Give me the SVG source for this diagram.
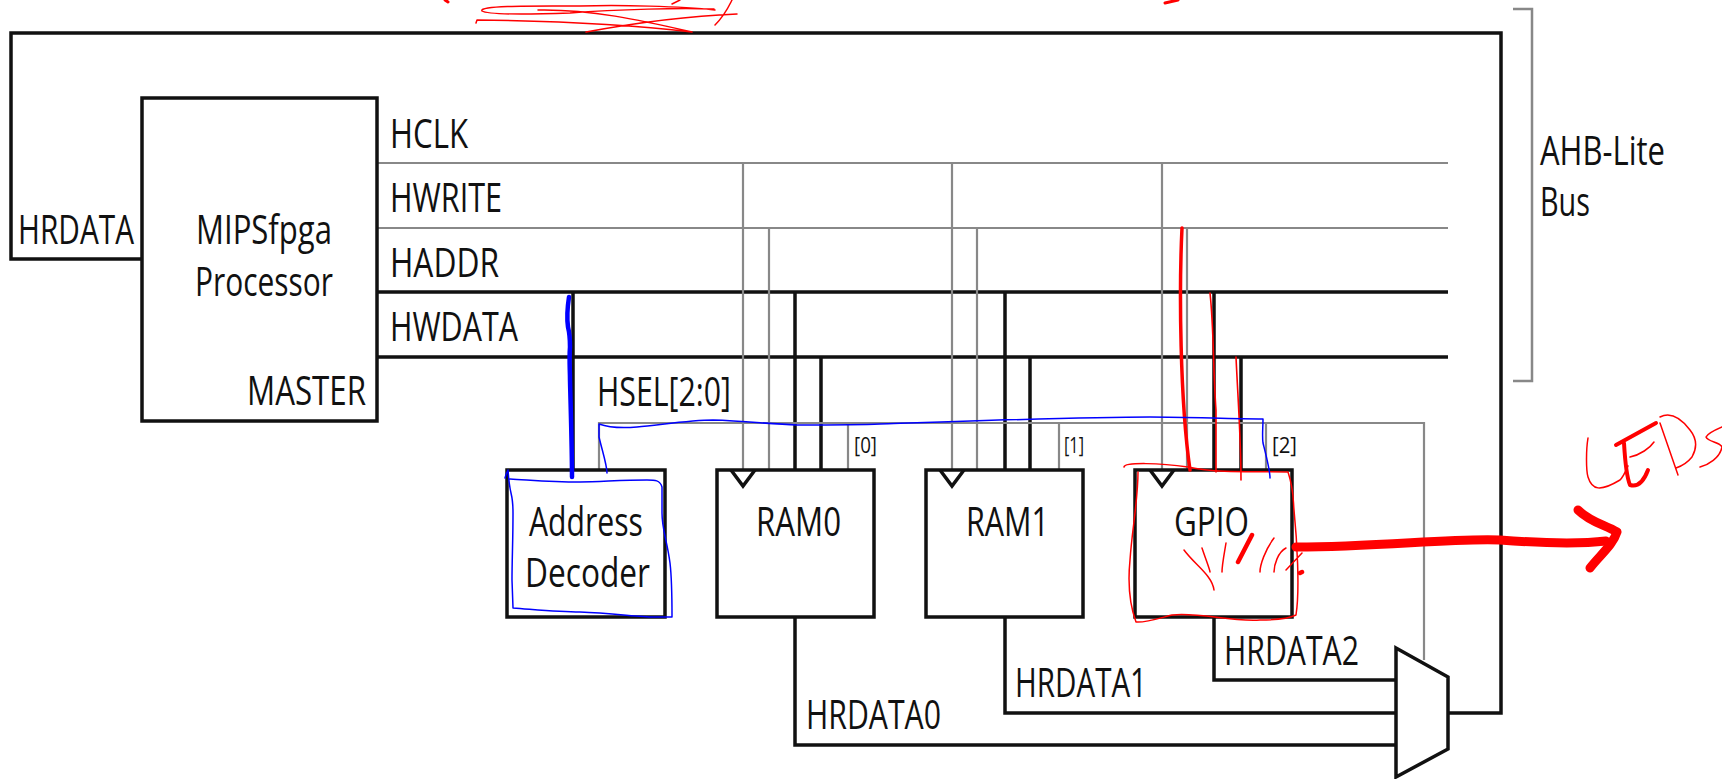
<svg xmlns="http://www.w3.org/2000/svg" width="1722" height="779" viewBox="0 0 1722 779">
<style>
text{font-family:"Open Sans","Noto Sans",sans-serif;font-size:40px;fill:#111}
.s{font-size:21px}
.b{fill:none;stroke:#111;stroke-width:3.5}
.g{fill:none;stroke:#888;stroke-width:2.2}
.box{fill:#fff;stroke:#111;stroke-width:3.5}
.r{fill:none;stroke:#f00;stroke-linecap:round;stroke-linejoin:round}
.u{fill:none;stroke:#00f;stroke-linecap:round;stroke-linejoin:round}
</style>
<g id="connectors">
<path class="b" d="M142 259H11V33H1501V713H1448"/>
<path class="g" d="M377 163H1448M377 228H1448"/>
<path class="b" d="M377 292H1448M377 357H1448"/>
<path class="g" d="M743 163V470M769 228V470M952 163V470M977 228V470M1162 163V470M1187 228V470"/>
<path class="b" d="M573 292V470M795 292V470M821 357V470M1005 292V470M1030 357V470M1214 292V470M1241 357V470"/>
<path class="g" d="M599 470V423H1424V660M848 423V470M1059 423V470M1266 423V470"/>
<path class="b" d="M795 617V745H1396M1005 617V713H1396M1214 617V680H1396"/>
<path class="g" d="M1513 9H1532V381H1513" style="stroke-width:2.5"/>
</g>
<g id="processor"><rect class="box" x="142" y="98" width="235" height="323"/>
<text lengthAdjust="spacingAndGlyphs" textLength="136" x="196" y="244">MIPSfpga</text><text lengthAdjust="spacingAndGlyphs" textLength="138" x="195" y="296">Processor</text><text lengthAdjust="spacingAndGlyphs" textLength="119" x="247" y="405">MASTER</text></g>
<g id="decoder"><rect class="box" x="507" y="470" width="158" height="147"/>
<text lengthAdjust="spacingAndGlyphs" textLength="114" x="529" y="536">Address</text><text lengthAdjust="spacingAndGlyphs" textLength="125" x="525" y="587">Decoder</text></g>
<g id="ram0"><rect class="box" x="717" y="470" width="157" height="147"/><path class="b" d="M731 470L743 486L755 470"/>
<text lengthAdjust="spacingAndGlyphs" textLength="85" x="756" y="536">RAM0</text></g>
<g id="ram1"><rect class="box" x="926" y="470" width="157" height="147"/><path class="b" d="M940 470L952 486L964 470"/>
<text lengthAdjust="spacingAndGlyphs" textLength="83" x="966" y="536">RAM1</text></g>
<g id="gpio"><rect class="box" x="1135" y="470" width="157" height="147"/><path class="b" d="M1150 470L1162 486L1174 470"/>
<text lengthAdjust="spacingAndGlyphs" textLength="75" x="1174" y="536">GPIO</text></g>
<g id="mux"><path class="box" d="M1396 648L1448 677V749L1396 777Z"/></g>
<g id="labels">
<text lengthAdjust="spacingAndGlyphs" textLength="78" x="390" y="148">HCLK</text><text lengthAdjust="spacingAndGlyphs" textLength="112" x="390" y="212">HWRITE</text><text lengthAdjust="spacingAndGlyphs" textLength="109" x="390" y="277">HADDR</text><text lengthAdjust="spacingAndGlyphs" textLength="128" x="390" y="341">HWDATA</text>
<text lengthAdjust="spacingAndGlyphs" textLength="134" x="597" y="406">HSEL[2:0]</text><text lengthAdjust="spacingAndGlyphs" textLength="116" x="18" y="244">HRDATA</text>
<text lengthAdjust="spacingAndGlyphs" textLength="125" x="1540" y="165">AHB-Lite</text><text lengthAdjust="spacingAndGlyphs" textLength="50" x="1540" y="216">Bus</text>
<text class="s" lengthAdjust="spacingAndGlyphs" textLength="23" x="854" y="453">[0]</text><text class="s" lengthAdjust="spacingAndGlyphs" textLength="20" x="1064" y="453">[1]</text><text class="s" lengthAdjust="spacingAndGlyphs" textLength="25" x="1272" y="453">[2]</text>
<text lengthAdjust="spacingAndGlyphs" textLength="135" x="806" y="729">HRDATA0</text><text lengthAdjust="spacingAndGlyphs" textLength="132" x="1015" y="697">HRDATA1</text><text lengthAdjust="spacingAndGlyphs" textLength="135" x="1224" y="665">HRDATA2</text>
</g>
<g id="annotations">
<path class="r" stroke-width="1.5" d="M476 23L477 20C560 21 640 26 692 32M586 32C640 22 690 16 737 14M715 10C680 6 620 5 580 6C540 6 478 5 482 11C488 15 540 14 570 13C620 9 680 8 714 9M538 10C590 9 640 20 692 32M715 25C725 15 728 8 732 0M672 4L680 0"/>
<path class="r" stroke-width="3" d="M445 0L448 2M1165 3L1178 0"/>
<path class="r" stroke-width="3.5" d="M1182 228C1179 290 1180 400 1190 470"/>
<path class="r" stroke-width="1.6" d="M1210 293C1214 330 1213 370 1216 410L1216 472M1236 357C1238 400 1241 440 1241 480"/>
<path class="r" stroke-width="1.5" d="M1124 467C1125 462 1160 463 1188 467C1220 474 1260 471 1288 472C1294 490 1293 500 1294 510C1297 540 1300 590 1296 615C1290 618 1280 620 1260 620C1230 622 1200 612 1172 615C1160 618 1145 623 1136 622C1128 600 1128 580 1130 560C1132 530 1138 500 1138 472M1184 550C1195 565 1212 575 1214 590M1202 548C1206 560 1210 570 1210 572M1226 543C1224 555 1222 565 1222 572M1274 538C1265 550 1260 565 1260 572M1286 548C1278 552 1274 565 1274 572M1302 553L1286 570"/>
<path class="r" stroke-width="4.5" d="M1252 535L1238 562M1302 572L1300 573"/>
<path class="r" stroke-width="9" d="M1296 547C1380 547 1450 538 1500 540C1540 543 1580 544 1606 541"/>
<path class="r" stroke-width="9" d="M1578 510C1590 522 1605 525 1617 532C1613 545 1600 555 1590 568"/>
<path class="r" stroke-width="1.5" d="M1588 438C1586 450 1586 470 1588 477C1592 490 1600 492 1620 480C1624 476 1626 470 1628 466M1630 457C1640 455 1650 448 1654 442M1660 423L1678 475M1660 417C1670 412 1680 417 1690 430C1698 440 1696 450 1692 457C1688 462 1682 466 1676 468M1722 427C1715 430 1708 433 1706 437C1708 442 1720 442 1722 447C1720 458 1708 465 1700 467"/>
<path class="r" stroke-width="4" d="M1616 445L1656 423M1624 443C1625 460 1627 478 1630 485C1640 488 1645 478 1648 470"/>
<path class="u" stroke-width="4.5" d="M569 297C567 310 567 320 568 327C570 335 570 340 570 347C569 360 570 370 570 380C571 420 572 450 572 477"/>
<path class="u" stroke-width="1.5" d="M599 424C610 428 625 428 637 427C660 425 690 420 713 420C745 421 770 424 797 425C830 425 860 425 880 424C940 422 1080 417 1150 417C1190 417 1230 419 1263 419C1263 428 1262 436 1263 443C1266 455 1270 470 1270 478M599 424C599 430 599 433 599 437C602 450 607 465 607 473M505 478C506 474 507 472 508 470C510 500 513 490 513 513C513 540 512 560 512 580L513 608C540 610 560 612 580 612C610 613 640 617 653 617L672 617C672 590 672 580 670 563C667 540 662 530 662 513L662 487C660 480 655 480 647 480C620 480 600 482 580 482C550 482 530 480 510 479"/>
</g>
</svg>
